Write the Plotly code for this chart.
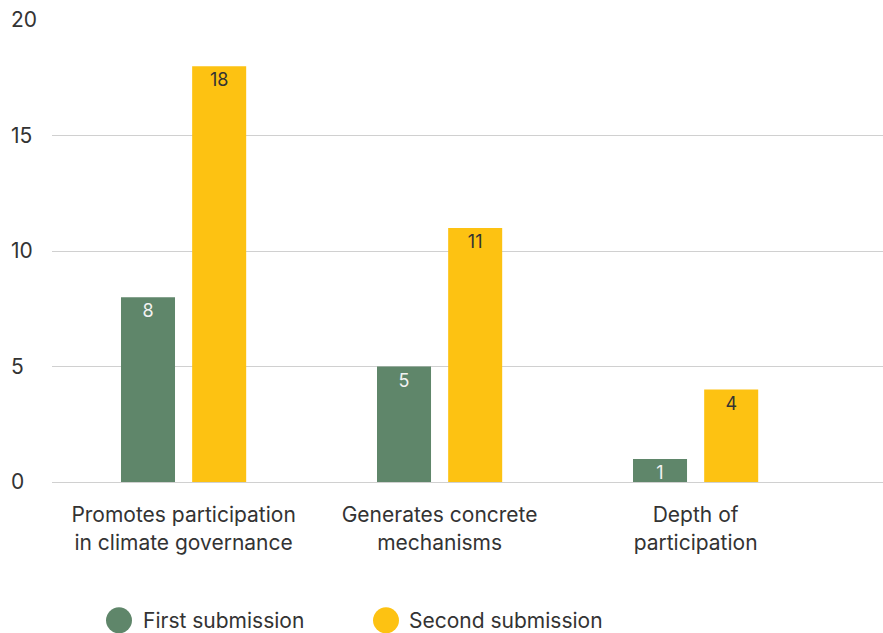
import plotly.graph_objects as go

# Chart data
categories = [
    "Promotes participation<br>in climate governance",
    "Generates concrete<br>mechanisms",
    "Depth of<br>participation",
]
series_names = ["First submission", "Second submission"]
first_submission = [8, 5, 1]
second_submission = [18, 11, 4]
y_ticks = [0, 5, 10, 15, 20]

GREEN = "#5f866a"
YELLOW = "#fdc212"
TEXT = "#333333"
GRID = "#d0d0d0"
FONT = "Inter"

W, H = 883, 633
TOP, BOTTOM = 19.5, 151
PLOT_H = H - TOP - BOTTOM
bar_w = 0.211


def py(pixel_y):
    """Convert a pixel row of the page into paper y coordinates."""
    return (H - BOTTOM - pixel_y) / PLOT_H


fig = go.Figure()
fig.add_trace(go.Bar(
    x=list(range(len(categories))), y=first_submission, name=series_names[0],
    marker=dict(color=GREEN, line=dict(width=0)),
    width=bar_w, offset=-0.2445,
    text=first_submission, textposition="inside", insidetextanchor="end",
    textangle=0,
    textfont=dict(family=FONT, size=18, color="#f2f2f2"),
    constraintext="none", showlegend=False,
))
fig.add_trace(go.Bar(
    x=list(range(len(categories))), y=second_submission, name=series_names[1],
    marker=dict(color=YELLOW, line=dict(width=0)),
    width=bar_w, offset=0.0335,
    text=second_submission, textposition="inside", insidetextanchor="end",
    textangle=0,
    textfont=dict(family=FONT, size=18, color=TEXT),
    constraintext="none", showlegend=False,
))

# Legend drawn as circles with labels below the plot
legend_items = [(119, 141, GREEN, series_names[0]), (386, 407, YELLOW, series_names[1])]
shapes, annotations = [], []
for cx, tx, col, label in legend_items:
    shapes.append(dict(
        type="circle", xref="paper", yref="paper",
        xsizemode="pixel", ysizemode="pixel",
        xanchor=cx / W, yanchor=py(620.5),
        x0=-13, x1=13, y0=-13, y1=13,
        fillcolor=col, line=dict(width=0), layer="above",
    ))
    annotations.append(dict(
        x=tx / W, y=py(620.5), xref="paper", yref="paper",
        xanchor="left", yanchor="middle", showarrow=False,
        text=label, font=dict(family=FONT, size=21, color=TEXT),
    ))

fig.update_layout(
    width=W, height=H,
    margin=dict(l=0, r=0, t=TOP, b=BOTTOM, pad=0),
    paper_bgcolor="white", plot_bgcolor="white",
    font=dict(family=FONT, size=21, color=TEXT),
    barmode="group",
    shapes=shapes, annotations=annotations,
    xaxis=dict(
        domain=[52 / W, 1], range=[-0.514, 2.732],
        tickmode="array", tickvals=list(range(len(categories))), ticktext=categories,
        showgrid=False, showline=False, zeroline=False,
        ticks="outside", ticklen=14, tickcolor="rgba(0,0,0,0)",
        tickfont=dict(family=FONT, size=21, color=TEXT),
    ),
    yaxis=dict(
        range=[0, 20], tickvals=y_ticks,
        anchor="free", position=7 / W, ticklabelposition="inside",
        ticklabeloverflow="allow",
        showgrid=True, gridcolor=GRID, gridwidth=1.3,
        zeroline=True, zerolinecolor=GRID, zerolinewidth=1.3,
        showline=False, ticks="",
        tickfont=dict(family=FONT, size=21, color=TEXT),
    ),
)

fig.write_html("out.html")
